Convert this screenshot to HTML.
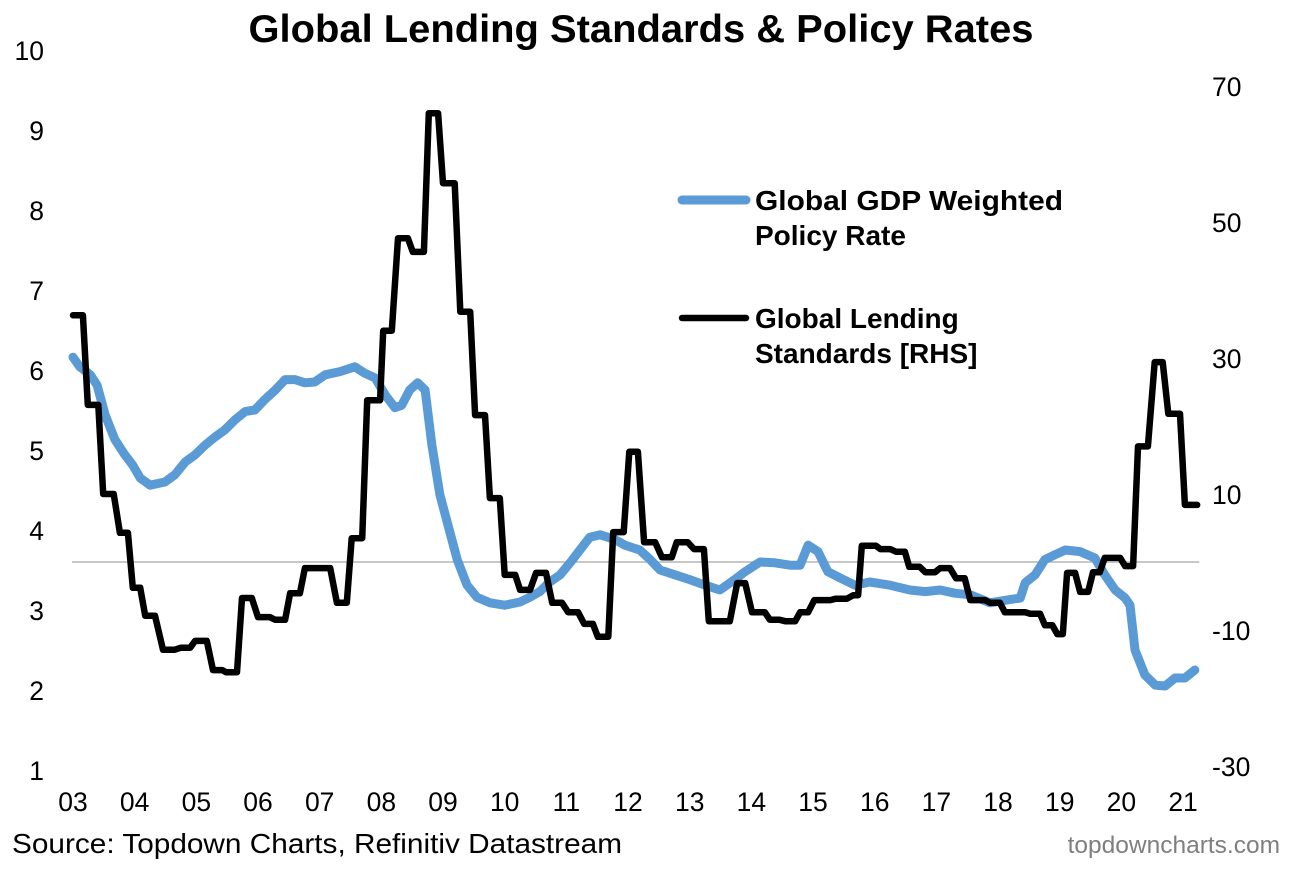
<!DOCTYPE html>
<html><head><meta charset="utf-8"><style>
body{margin:0;background:#fff;}
svg text{font-family:"Liberation Sans",Arial,sans-serif;}
</style></head><body>
<svg id="chart" width="1289" height="868" viewBox="0 0 1289 868" xmlns="http://www.w3.org/2000/svg">
<text x="641" y="42" text-anchor="middle" font-size="39" font-weight="bold" textLength="785" lengthAdjust="spacingAndGlyphs">Global Lending Standards &amp; Policy Rates</text>
<g id="axes"></g>
<line id="zero" stroke="#a6a6a6" stroke-width="1.3"/>
<polyline id="blue" fill="none" stroke="#5b9bd5" stroke-width="9" stroke-linejoin="round" stroke-linecap="round"/>
<polyline id="black" fill="none" stroke="#000" stroke-width="6.5" stroke-linejoin="round" stroke-linecap="round"/>
<g>
<line x1="682" y1="200" x2="746" y2="200" stroke="#5b9bd5" stroke-width="9" stroke-linecap="round"/>
<text x="755" y="210" font-size="28" font-weight="bold" textLength="308" lengthAdjust="spacingAndGlyphs">Global GDP Weighted</text>
<text x="755" y="245" font-size="28" font-weight="bold">Policy Rate</text>
<line x1="682" y1="318" x2="746" y2="318" stroke="#000" stroke-width="6.5" stroke-linecap="round"/>
<text x="755" y="328" font-size="28" font-weight="bold">Global Lending</text>
<text x="755" y="363" font-size="28" font-weight="bold">Standards [RHS]</text>
</g>
<text x="12" y="853" font-size="27.5" textLength="610" lengthAdjust="spacingAndGlyphs">Source: Topdown Charts, Refinitiv Datastream</text>
<text x="1280" y="853" font-size="24.5" fill="#7f7f7f" text-anchor="end">topdowncharts.com</text>
</svg>
<script>
const leftTicks=[1,2,3,4,5,6,7,8,9,10];
const rightTicks=[-30,-10,10,30,50,70];
const yearLabels=["03","04","05","06","07","08","09","10","11","12","13","14","15","16","17","18","19","20","21"];
const blueDates=[2003.0,2003.11,2003.28,2003.39,2003.52,2003.68,2003.84,2003.97,2004.09,2004.25,2004.49,2004.65,2004.82,2004.98,2005.14,2005.30,2005.46,2005.63,2005.79,2005.95,2006.11,2006.28,2006.44,2006.60,2006.76,2006.92,2007.09,2007.33,2007.57,2007.73,2007.90,2008.06,2008.22,2008.33,2008.46,2008.59,2008.71,2008.82,2008.95,2009.08,2009.23,2009.39,2009.55,2009.76,2010.0,2010.25,2010.41,2010.57,2010.73,2010.90,2011.06,2011.22,2011.38,2011.55,2011.79,2011.95,2012.19,2012.36,2012.52,2012.76,2013.0,2013.25,2013.49,2013.73,2013.90,2014.14,2014.38,2014.63,2014.79,2014.92,2015.08,2015.24,2015.44,2015.68,2015.92,2016.25,2016.57,2016.82,2017.06,2017.30,2017.55,2017.87,2018.19,2018.36,2018.44,2018.60,2018.76,2018.92,2019.09,2019.33,2019.57,2019.73,2019.90,2020.06,2020.14,2020.22,2020.38,2020.55,2020.71,2020.87,2021.03,2021.19];
const blueValues=[6.16,6.04,5.94,5.81,5.44,5.13,4.94,4.81,4.65,4.56,4.6,4.69,4.85,4.94,5.06,5.16,5.25,5.38,5.48,5.5,5.63,5.75,5.88,5.88,5.84,5.85,5.94,5.98,6.04,5.96,5.9,5.69,5.53,5.56,5.75,5.84,5.75,5.06,4.44,4.06,3.63,3.31,3.16,3.09,3.06,3.1,3.16,3.23,3.35,3.44,3.59,3.75,3.91,3.94,3.88,3.81,3.75,3.63,3.5,3.44,3.38,3.31,3.25,3.38,3.48,3.6,3.59,3.56,3.56,3.81,3.73,3.48,3.4,3.31,3.35,3.31,3.25,3.23,3.25,3.21,3.19,3.09,3.13,3.15,3.34,3.44,3.63,3.69,3.75,3.73,3.65,3.44,3.25,3.15,3.06,2.5,2.19,2.06,2.05,2.15,2.15,2.25];
const lendStart=[2003.0,2003.24,2003.49,2003.76,2003.97,2004.17,2004.46,2004.75,2004.98,2005.27,2005.48,2005.74,2006.0,2006.28,2006.52,2006.76,2007.28,2007.52,2007.77,2008.03,2008.27,2008.51,2008.77,2009.0,2009.28,2009.52,2009.76,2010.0,2010.25,2010.51,2010.77,2011.03,2011.29,2011.51,2011.76,2012.02,2012.26,2012.55,2012.79,2013.07,2013.31,2013.77,2014.01,2014.30,2014.55,2014.79,2015.02,2015.37,2015.65,2015.79,2016.09,2016.35,2016.56,2016.82,2017.06,2017.32,2017.55,2017.87,2018.11,2018.52,2018.76,2018.96,2019.12,2019.33,2019.54,2019.73,2020.06,2020.27,2020.54,2020.76,2021.03];
const lendEnd=[2003.16,2003.41,2003.66,2003.89,2004.09,2004.33,2004.65,2004.90,2005.17,2005.42,2005.66,2005.90,2006.19,2006.44,2006.68,2007.17,2007.44,2007.69,2007.98,2008.17,2008.43,2008.69,2008.92,2009.19,2009.44,2009.68,2009.92,2010.17,2010.41,2010.67,2010.93,2011.19,2011.43,2011.68,2011.93,2012.16,2012.44,2012.71,2012.97,2013.23,2013.65,2013.90,2014.22,2014.46,2014.71,2014.92,2015.28,2015.55,2015.73,2016.02,2016.25,2016.49,2016.73,2016.98,2017.22,2017.46,2017.79,2018.03,2018.44,2018.68,2018.88,2019.05,2019.25,2019.46,2019.65,2019.98,2020.19,2020.43,2020.67,2020.95,2021.23];
const lendValues=[36.3,23.1,10,4.3,-3.8,-7.9,-12.9,-12.6,-11.6,-15.9,-16.2,-5.3,-8.1,-8.5,-4.6,-0.9,-6,3.5,23.8,34,47.6,45.6,66,55.7,36.8,21.6,9.4,-1.9,-4.1,-1.6,-6,-7.4,-9.1,-11,4.4,16.2,2.9,0.7,2.9,1.9,-8.7,-3.1,-7.4,-8.5,-8.7,-7.4,-5.6,-5.4,-4.9,2.4,1.9,1.5,-0.7,-1.5,-0.9,-2.4,-5.6,-6,-7.4,-7.6,-9.3,-10.6,-1.6,-4.4,-1.5,0.6,-0.6,17,29.4,21.8,8.4];

const X0=73, PX_PER_YEAR=61.67;
function xScale(yr){return X0+(yr-2003)*PX_PER_YEAR;}
function yLeft(v){return 770-(v-1)*80;}
function yRight(v){return 562-v*6.8;}
const NS="http://www.w3.org/2000/svg";
const axes=document.getElementById('axes');
function txt(x,y,s,anchor){const t=document.createElementNS(NS,'text');t.setAttribute('x',x);t.setAttribute('y',y);t.setAttribute('font-size','26.5');t.setAttribute('text-anchor',anchor);t.textContent=s;axes.appendChild(t);return t;}
leftTicks.forEach(v=>{const t=txt(44,yLeft(v)+10,String(v),'end');

});
rightTicks.forEach(v=>{const t=txt(1212,yRight(v)+10,String(v),'start');

});
yearLabels.forEach((s,i)=>{const t=txt(xScale(2003+i),811,s,'middle');

});
const z=document.getElementById('zero');
z.setAttribute('x1',xScale(2003)-1);z.setAttribute('x2',xScale(2021.23)+2);
z.setAttribute('y1',yRight(0));z.setAttribute('y2',yRight(0));
document.getElementById('blue').setAttribute('points',blueDates.map((d,i)=>xScale(d).toFixed(1)+','+yLeft(blueValues[i]).toFixed(1)).join(' '));
const pts=[];
lendValues.forEach((v,i)=>{pts.push(xScale(lendStart[i]).toFixed(1)+','+yRight(v).toFixed(1));pts.push(xScale(lendEnd[i]).toFixed(1)+','+yRight(v).toFixed(1));});
document.getElementById('black').setAttribute('points',pts.join(' '));
</script>
</body></html>
